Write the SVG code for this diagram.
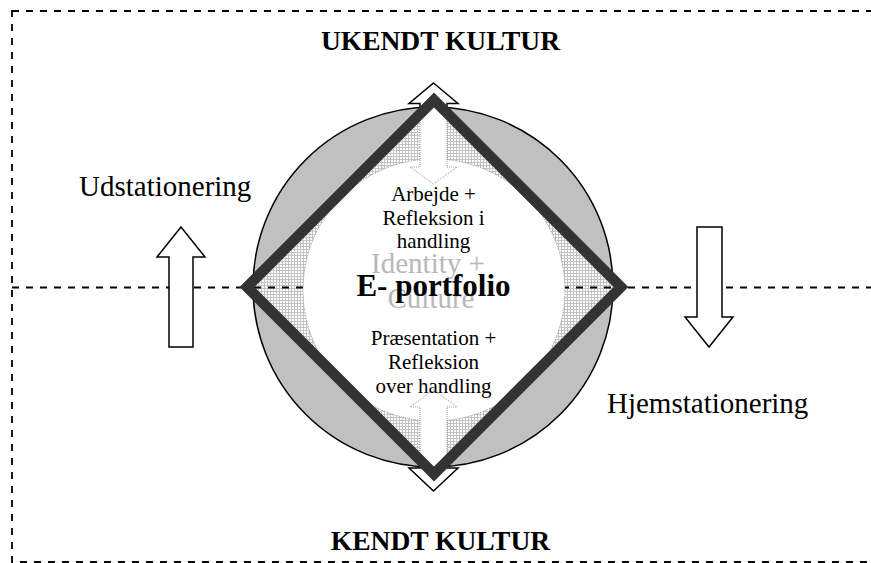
<svg xmlns="http://www.w3.org/2000/svg" width="871" height="563" viewBox="0 0 871 563">
  <defs>
    <!-- fine grey grid used inside the diamond -->
    <pattern id="grid" width="3" height="3" patternUnits="userSpaceOnUse">
      <rect width="3" height="3" fill="#ffffff"/>
      <path d="M0 0.5H3M0.5 0V3" stroke="#c2c2c2" stroke-width="1"/>
    </pattern>
    <clipPath id="diamondClip">
      <polygon points="434,100 621,287 434,474 247,287"/>
    </clipPath>
    <style>
      .dash { fill: none; stroke: #000; stroke-width: 1.8; stroke-dasharray: 7 7; }
      .block { fill: #fff; stroke: #000; stroke-width: 1.5; stroke-linejoin: miter; }
      .dotted { fill: #fff; stroke: #9a9a9a; stroke-width: 1; stroke-dasharray: 1 1; }
      .serif { font-family: "Liberation Serif", "Times New Roman", serif; fill: #000; }
      .title { font-size: 27.5px; font-weight: bold; text-anchor: middle; }
      .side { font-size: 29px; }
      .inner { font-size: 21px; text-anchor: middle; }
      .ghost { font-size: 29px; text-anchor: middle; fill: #b8b8b8; }
      .core { font-size: 31px; font-weight: bold; text-anchor: middle; }
    </style>
  </defs>

  <!-- frame and horizon -->
  <g id="frame">
    <rect class="dash" x="12" y="11" width="880" height="551"/>
  </g>
  <g id="connectors">
    <line class="dash" x1="12" y1="287.5" x2="871" y2="287.5"/>
  </g>

  <!-- outward / homeward block arrows -->
  <g id="arrow-out">
    <polygon class="block" points="181,227 205,257 193,257 193,347 169,347 169,257 157,257"/>
  </g>
  <g id="arrow-home">
    <polygon class="block" points="697,227 722,227 722,317 733,317 709,347 685,317 697,317"/>
  </g>

  <!-- vertical double arrow behind the circle -->
  <g id="arrow-vertical">
    <polygon class="block" points="433.5,83 458,103.5 447,103.5 447,468 458,468 433.5,491 409,468 420,468 420,103.5 409,103.5"/>
  </g>

  <!-- grey circle -->
  <g id="circle">
    <circle cx="433" cy="287" r="180" fill="#c0c0c0" stroke="#000" stroke-width="1.5"/>
  </g>

  <!-- diamond interior: grid, horizon, inner circle and inner arrows -->
  <g id="diamond-inner" clip-path="url(#diamondClip)">
    <polygon points="434,100 621,287 434,474 247,287" fill="url(#grid)"/>
    <line class="dash" x1="240" y1="287.5" x2="630" y2="287.5"/>
    <circle class="dotted" cx="434" cy="290" r="131"/>
    <polygon class="dotted" points="420,90 447,90 447,167 457,167 433.5,184 410,167 420,167"/>
    <polygon class="dotted" points="433.5,390 457,407 447,407 447,484 420,484 420,407 410,407"/>
  </g>

  <!-- diamond outline -->
  <g id="diamond">
    <polygon points="434,100 621,287 434,474 247,287" fill="none" stroke="#333" stroke-width="10.5" stroke-linejoin="miter"/>
  </g>

  <!-- labels -->
  <g id="label-unknown">
    <text class="serif title" x="440.5" y="50">UKENDT KULTUR</text>
  </g>
  <g id="label-known">
    <text class="serif title" x="440.5" y="550">KENDT KULTUR</text>
  </g>
  <g id="label-out">
    <text class="serif side" x="79" y="196">Udstationering</text>
  </g>
  <g id="label-home">
    <text class="serif side" x="607" y="413">Hjemstationering</text>
  </g>
  <g id="label-identity">
    <text class="serif ghost" x="428" y="273">Identity +</text>
    <text class="serif ghost" x="431" y="308">Culture</text>
  </g>
  <g id="label-work">
    <text class="serif inner" x="433.5" y="201">Arbejde +</text>
    <text class="serif inner" x="433.5" y="225">Refleksion i</text>
    <text class="serif inner" x="433.5" y="248">handling</text>
  </g>
  <g id="label-core">
    <text class="serif core" x="433.5" y="296">E- portfolio</text>
  </g>
  <g id="label-presentation">
    <text class="serif inner" x="433.5" y="345">Præsentation +</text>
    <text class="serif inner" x="433.5" y="369">Refleksion</text>
    <text class="serif inner" x="433.5" y="393">over handling</text>
  </g>
</svg>
